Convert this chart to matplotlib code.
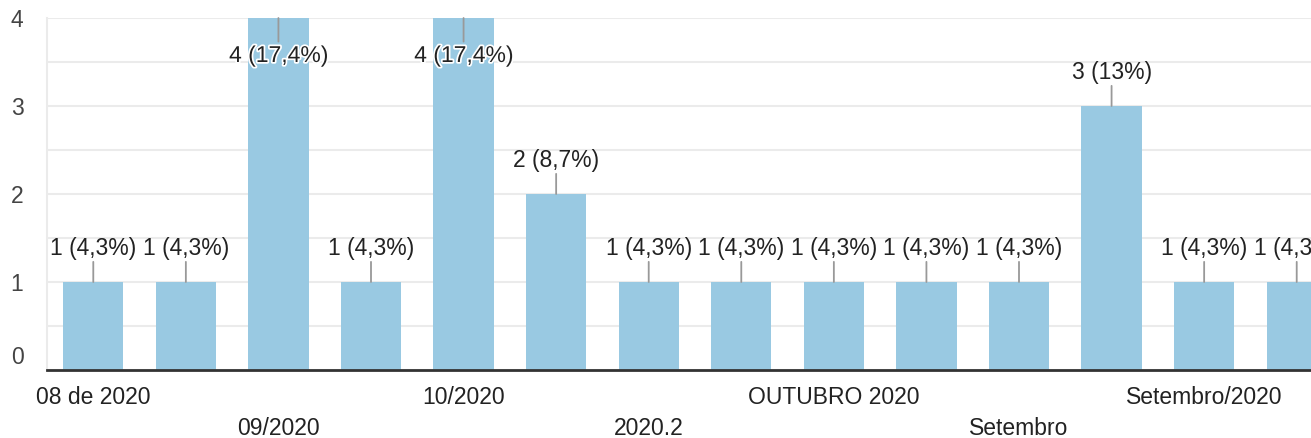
import matplotlib
matplotlib.use("Agg")
import matplotlib.pyplot as plt
import matplotlib.patheffects as pe
import matplotlib.transforms as mtransforms

categories = ["08 de 2020", "", "09/2020", "", "10/2020", "", "2020.2", "",
              "OUTUBRO 2020", "", "Setembro", "", "Setembro/2020", ""]
values = [1, 1, 4, 1, 4, 2, 1, 1, 1, 1, 1, 3, 1, 1]
total = 23

plt.rcParams['font.family'] = ['Liberation Sans', 'DejaVu Sans']

W, H = 1311, 438
fig = plt.figure(figsize=(W / 100, H / 100), dpi=100)
ax_left, ax_right_px, ax_top, ax_bottom = 47, 1343, 18, 370
ax = fig.add_axes([ax_left / W, (H - ax_bottom) / H,
                   (ax_right_px - ax_left) / W, (ax_bottom - ax_top) / H])

x = list(range(len(values)))
ax.bar(x, values, width=0.65, color='#99c9e2', zorder=2)
ax.set_xlim(-0.5, len(values) - 0.5)
ax.set_ylim(0, 4)

ax.set_yticks([0, 1, 2, 3, 4])
ax.set_yticks([0.5, 1.5, 2.5, 3.5], minor=True)
ax.grid(axis='y', which='both', color='#ebebeb', linewidth=1.5, zorder=0)
ax.tick_params(axis='y', which='both', length=0, pad=17, labelsize=16.5, labelcolor='#444444')
ax.set_xticks([])
for s in ['top', 'right']:
    ax.spines[s].set_visible(False)
ax.spines['left'].set_color('#ebebeb')
ax.spines['left'].set_linewidth(1.5)
ax.spines['bottom'].set_color('#333333')
ax.spines['bottom'].set_linewidth(2)
ax.spines['bottom'].set_zorder(3)

# shift the "0" label up as in the reference
fig.canvas.draw()
ylabels = ax.get_yticklabels()
ylabels[0].set_transform(ylabels[0].get_transform() +
                         mtransforms.ScaledTranslation(0, 15 / 100, fig.dpi_scale_trans))

def fmt(v):
    p = round(v / total * 100, 1)
    s = ("%.1f" % p).rstrip('0').rstrip('.').replace('.', ',')
    return f"{v} ({s}%)"

for i, v in enumerate(values):
    if v >= 4:
        ax.annotate("", xy=(i, v), xytext=(0, -17), textcoords='offset points',
                    arrowprops=dict(arrowstyle='-', color='#999999', lw=1.3, shrinkA=0, shrinkB=0))
        ax.annotate(fmt(v), xy=(i, v), xytext=(0, -27), textcoords='offset points',
                    ha='center', va='center', fontsize=16.5, color='#222222', zorder=5,
                    path_effects=[pe.withStroke(linewidth=2.5, foreground='white')])
    else:
        ax.annotate("", xy=(i, v), xytext=(0, 14.5), textcoords='offset points',
                    arrowprops=dict(arrowstyle='-', color='#999999', lw=1.3, shrinkA=0, shrinkB=0))
        ax.annotate(fmt(v), xy=(i, v), xytext=(0, 23.8), textcoords='offset points',
                    ha='center', va='center', fontsize=16.5, color='#222222', zorder=5)

for i, c in enumerate(categories):
    if not c:
        continue
    row = (i // 2) % 2
    off = -20 if row == 0 else -42
    ax.annotate(c, xy=(i, 0), xycoords=('data', 'axes fraction'), xytext=(0, off),
                textcoords='offset points', ha='center', va='center', fontsize=16.5,
                color='#222222', annotation_clip=False)

fig.savefig("out.png", dpi=100)
